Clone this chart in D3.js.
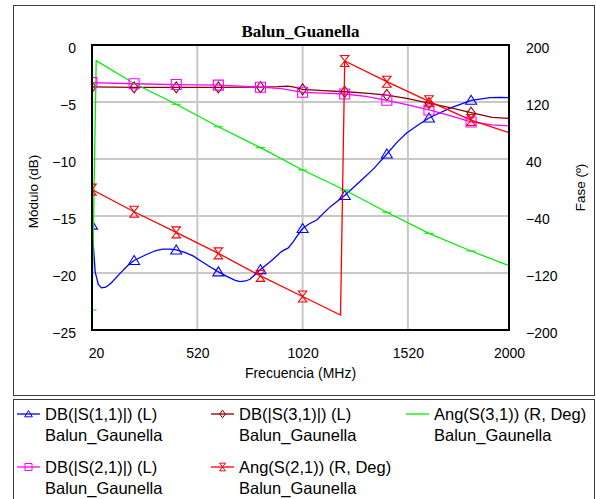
<!DOCTYPE html>
<html>
<head>
<meta charset="utf-8">
<script src="https://cdn.jsdelivr.net/npm/d3@7"></script>
<style>
  body { margin: 0; background: #fff; }
  svg { display: block; }
  text { font-family: "Liberation Sans", Arial, Helvetica, sans-serif; fill: #000; }
</style>
</head>
<body>
<svg id="chart" width="596" height="499"></svg>
<script>
// ---- data -------------------------------------------------------------
const freqTicks = [20, 520, 1020, 1520, 2000];
const dbTicks = [0, -5, -10, -15, -20, -25];
const degTicks = [200, 120, 40, -40, -120, -200];
const markerFreqs = [20, 220, 420, 620, 820, 1020, 1220, 1420, 1620, 1820];

// DB(|S(1,1)|)
const s11Freq = [20, 35, 50, 65, 85, 110, 150, 190, 220, 276, 320, 356, 390, 420, 460, 500, 533, 580, 620, 660, 700, 723, 750, 770, 800, 820, 873, 921, 952, 976, 1000, 1020, 1050, 1087, 1150, 1220, 1300, 1360, 1420, 1470, 1514, 1570, 1620, 1720, 1820, 1910, 1960, 2000];
const s11Db = [-15.8, -19.9, -21.0, -21.3, -21.25, -20.9, -20.1, -19.35, -18.9, -18.4, -18.05, -17.9, -17.9, -17.98, -18.2, -18.5, -18.9, -19.45, -19.9, -20.3, -20.65, -20.76, -20.7, -20.55, -20.05, -19.7, -18.9, -18.1, -17.8, -17.25, -16.6, -16.1, -15.7, -15.35, -14.2, -13.2, -11.84, -10.8, -9.56, -8.5, -7.72, -7.0, -6.4, -5.53, -4.85, -4.62, -4.6, -4.62];

// DB(|S(2,1)|)
const s21Freq = [20, 220, 420, 620, 820, 920, 1020, 1120, 1220, 1320, 1420, 1520, 1620, 1720, 1820, 1920, 2000];
const s21Db = [-3.3, -3.4, -3.47, -3.52, -3.7, -3.82, -4.15, -4.22, -4.3, -4.5, -4.85, -5.25, -5.7, -6.2, -6.75, -7.0, -7.1];

// DB(|S(3,1)|)
const s31Freq = [20, 220, 420, 620, 820, 900, 950, 980, 1020, 1120, 1220, 1320, 1420, 1520, 1620, 1720, 1820, 1920, 2000];
const s31Db = [-3.68, -3.72, -3.72, -3.72, -3.7, -3.66, -3.6, -3.7, -3.89, -4.0, -4.1, -4.22, -4.39, -4.7, -5.1, -5.5, -5.94, -6.35, -6.43];

// Ang(S(2,1)) in degrees
const a21Freq = [20, 220, 420, 620, 820, 1020, 1200, 1220, 1420, 1620, 1820, 2000];
const a21Deg = [-3, -34, -63, -92.5, -124, -153, -179, 177.5, 148.5, 121, 94.7, 77];

// Ang(S(3,1)) in degrees
const a31Freq = [20, 40, 220, 420, 620, 820, 1020, 1220, 1420, 1620, 1820, 2000];
const a31Deg = [-172, 178, 146, 116.8, 85.3, 55.9, 24.6, -3.5, -34.8, -64.3, -89.1, -109.8];

// ---- layout -----------------------------------------------------------
const svg = d3.select("#chart");
const plot = { left: 92, top: 45, right: 509, bottom: 330 };

const x = d3.scaleLinear().domain([20, 2000]).range([plot.left, plot.right]);
const yL = d3.scaleLinear().domain([-25, 0]).range([plot.bottom, plot.top]);
const yR = d3.scaleLinear().domain([-200, 200]).range([plot.bottom, plot.top]);

// outer frame and legend frame
svg.append("rect").attr("x", 13.5).attr("y", 5.5).attr("width", 581).attr("height", 390)
  .attr("fill", "none").attr("stroke", "#3c3c3c").attr("stroke-width", 1);
svg.append("rect").attr("x", 13.5).attr("y", 399.5).attr("width", 581).attr("height", 140)
  .attr("fill", "none").attr("stroke", "#3c3c3c").attr("stroke-width", 1);

// title
svg.append("text").attr("x", (plot.left + plot.right) / 2).attr("y", 37)
  .attr("text-anchor", "middle")
  .style("font-family", "'Liberation Serif', 'Times New Roman', serif")
  .style("font-weight", "bold").style("font-size", "17px")
  .text("Balun_Guanella");

// grid
const grid = svg.append("g").attr("stroke", "#c8c8c8").attr("stroke-width", 2);
grid.selectAll("line.v").data(freqTicks.filter(f => f > 20 && f < 2000)).join("line")
  .attr("x1", d => x(d)).attr("x2", d => x(d))
  .attr("y1", plot.top).attr("y2", plot.bottom);
grid.selectAll("line.h").data(dbTicks.filter(d => d < 0 && d > -25)).join("line")
  .attr("x1", plot.left).attr("x2", plot.right)
  .attr("y1", d => yL(d)).attr("y2", d => yL(d));

// axes (labels only, frame drawn separately)
const axisFont = "14px";
const xAxis = svg.append("g").attr("transform", `translate(0,${plot.bottom})`)
  .call(d3.axisBottom(x).tickValues(freqTicks).tickSize(0).tickPadding(0).tickFormat(d3.format("d")));
xAxis.select(".domain").remove();
xAxis.selectAll("text").attr("y", 28).attr("dy", null)
  .style("font-size", axisFont).style("font-family", "'Liberation Sans', Arial, sans-serif")
  .attr("dx", (d, i) => i === 0 ? 4 : 0);

const lAxis = svg.append("g").attr("transform", `translate(${plot.left},0)`)
  .call(d3.axisLeft(yL).tickValues(dbTicks).tickSize(0).tickPadding(16).tickFormat(d3.format("d")));
lAxis.select(".domain").remove();
lAxis.selectAll("text").attr("dy", "0.55em")
  .style("font-size", axisFont).style("font-family", "'Liberation Sans', Arial, sans-serif");

const rAxis = svg.append("g").attr("transform", `translate(${plot.right},0)`)
  .call(d3.axisRight(yR).tickValues(degTicks).tickSize(0).tickPadding(17).tickFormat(d3.format("d")));
rAxis.select(".domain").remove();
rAxis.selectAll("text").attr("dy", "0.55em")
  .style("font-size", axisFont).style("font-family", "'Liberation Sans', Arial, sans-serif");

// axis titles
svg.append("text").attr("x", (plot.left + plot.right) / 2).attr("y", 378)
  .attr("text-anchor", "middle").style("font-size", "14px").text("Frecuencia (MHz)");
svg.append("text").attr("transform", `translate(38,${(plot.top + plot.bottom) / 2 + 4}) rotate(-90)`)
  .attr("text-anchor", "middle").style("font-size", "13.5px").text("Módulo (dB)");
svg.append("text").attr("transform", `translate(585,${(plot.top + plot.bottom) / 2}) rotate(-90)`)
  .attr("text-anchor", "middle").style("font-size", "13.5px").text("Fase (º)");

// clip region for the traces
svg.append("defs").append("clipPath").attr("id", "plotClip")
  .append("rect").attr("x", plot.left).attr("y", plot.top)
  .attr("width", plot.right - plot.left).attr("height", plot.bottom - plot.top);

// marker shapes
function markerPath(kind, s) {
  const h = s / 2;
  switch (kind) {
    case "triangle": return `M0,${-h} L${h * 1.1},${h * 0.8} L${-h * 1.1},${h * 0.8} Z`;
    case "square": return `M${-h},${-h} H${h} V${h} H${-h} Z`;
    case "diamond": return `M0,${-h * 1.1} L${h * 0.8},0 L0,${h * 1.1} L${-h * 0.8},0 Z`;
    case "hourglass": return `M${-h * 0.85},${-h * 1.1} H${h * 0.85} L${-h * 0.85},${h * 1.1} H${h * 0.85} Z`;
    case "dash": return `M${-h},0 H${h}`;
  }
}

const series = [
  { name: "DB(|S(1,1)|) (L)", color: "#0000ff", marker: "triangle", freq: s11Freq, val: s11Db, axis: yL },
  { name: "DB(|S(3,1)|) (L)", color: "#8b0000", marker: "diamond", freq: s31Freq, val: s31Db, axis: yL },
  { name: "Ang(S(3,1)) (R, Deg)", color: "#00ee00", marker: "dash", freq: a31Freq, val: a31Deg, axis: yR },
  { name: "DB(|S(2,1)|) (L)", color: "#ff00ff", marker: "square", freq: s21Freq, val: s21Db, axis: yL },
  { name: "Ang(S(2,1)) (R, Deg)", color: "#ff0000", marker: "hourglass", freq: a21Freq, val: a21Deg, axis: yR }
];

const traces = svg.append("g").attr("clip-path", "url(#plotClip)");
series.forEach(s => {
  const pts = s.freq.map((f, i) => [f, s.val[i]]);
  const line = d3.line().x(d => x(d[0])).y(d => s.axis(d[1]));
  traces.append("path").datum(pts).attr("d", line)
    .attr("fill", "none").attr("stroke", s.color).attr("stroke-width", 1.3);
  const marks = pts.filter(p => markerFreqs.includes(p[0]));
  traces.selectAll(null).data(marks).join("path")
    .attr("transform", d => `translate(${x(d[0])},${s.axis(d[1])})`)
    .attr("d", markerPath(s.marker, s.marker === "dash" ? 9 : 10))
    .attr("fill", "none").attr("stroke", s.color).attr("stroke-width", 1.1);
});

// plot frame
svg.append("rect").attr("x", plot.left).attr("y", plot.top)
  .attr("width", plot.right - plot.left).attr("height", plot.bottom - plot.top)
  .attr("fill", "none").attr("stroke", "#000").attr("stroke-width", 2);

// legend
const legendPos = [
  { col: 0, row: 0 }, { col: 1, row: 0 }, { col: 2, row: 0 }, { col: 0, row: 1 }, { col: 1, row: 1 }
];
const colX = [17, 211, 406];
const rowY = [414, 467];
const legend = svg.append("g");
series.forEach((s, i) => {
  const p = legendPos[i];
  const lx = colX[p.col], ly = rowY[p.row];
  const g = legend.append("g");
  g.append("line").attr("x1", lx).attr("x2", lx + 23).attr("y1", ly).attr("y2", ly)
    .attr("stroke", s.color).attr("stroke-width", 1.3);
  if (s.marker !== "dash") {
    g.append("path").attr("transform", `translate(${lx + 11.5},${ly})`)
      .attr("d", markerPath(s.marker, 7))
      .attr("fill", "none").attr("stroke", s.color).attr("stroke-width", 1);
  }
  g.append("text").attr("x", lx + 28).attr("y", ly + 6).style("font-size", "16.5px").text(s.name);
  g.append("text").attr("x", lx + 28).attr("y", ly + 27).style("font-size", "16.5px").text("Balun_Gaunella");
});
</script>
</body>
</html>
